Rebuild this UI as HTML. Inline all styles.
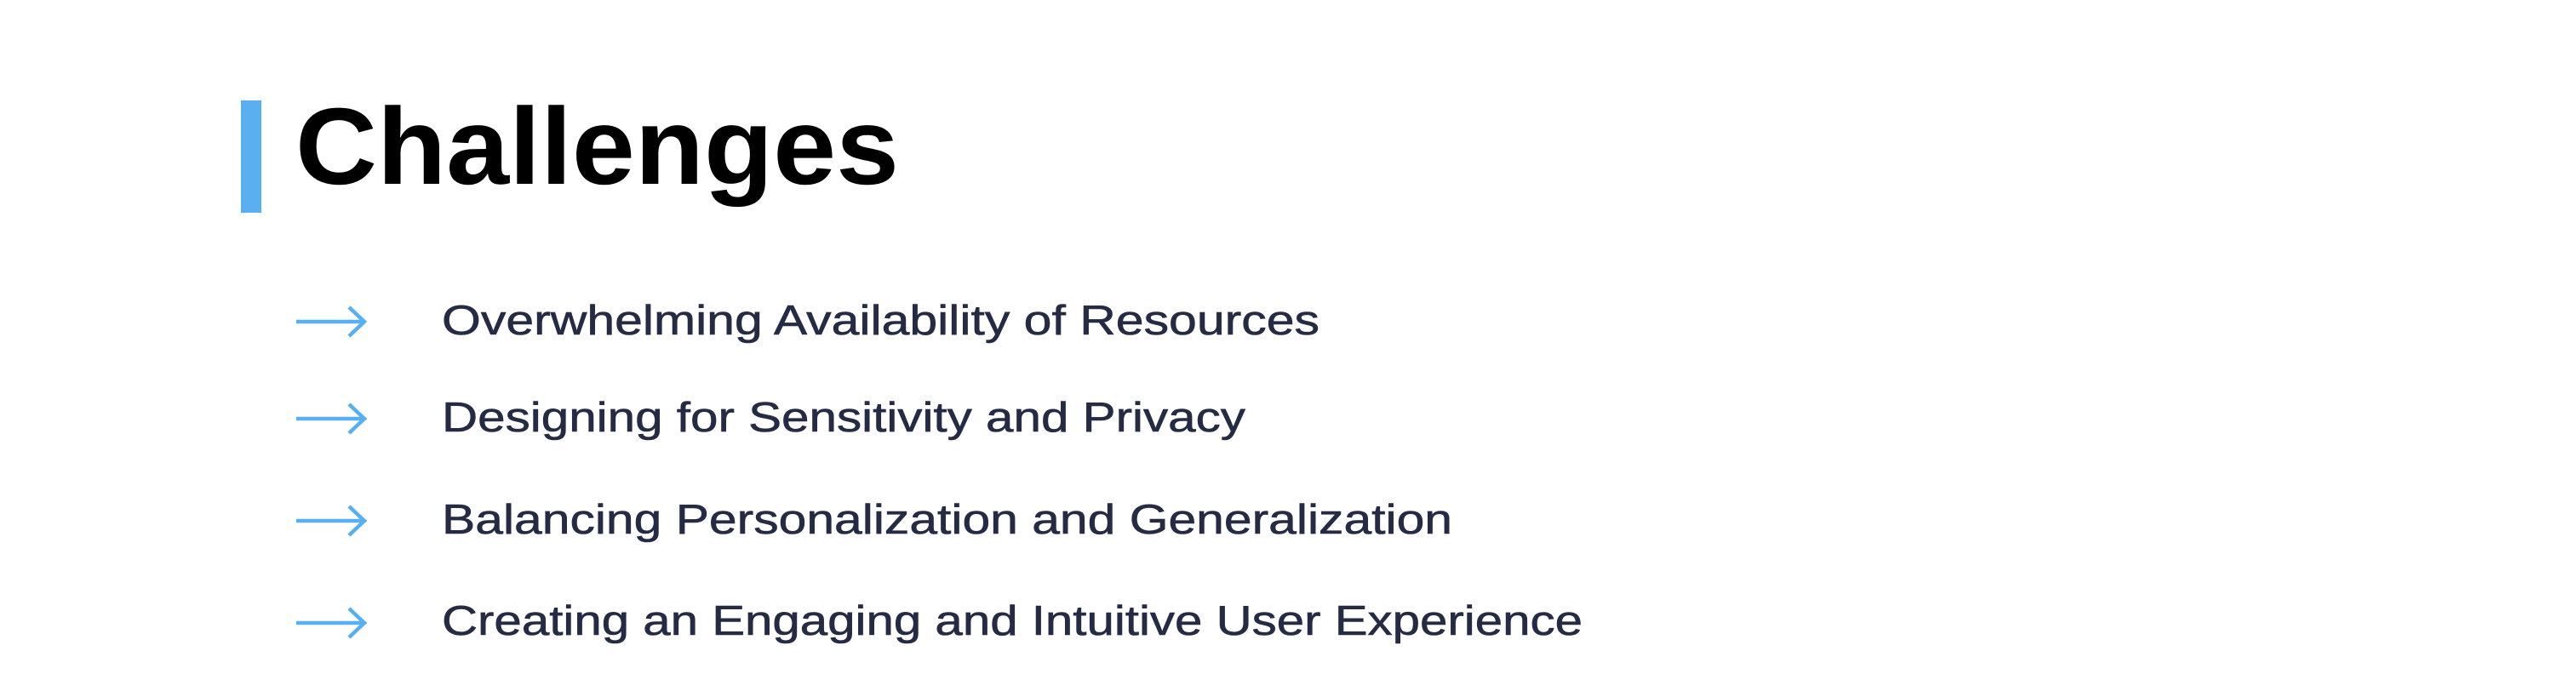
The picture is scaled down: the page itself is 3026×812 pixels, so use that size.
<!DOCTYPE html>
<html><head><meta charset="utf-8"><style>
html,body{margin:0;padding:0;background:#fff;}
svg{display:block;}
</style></head><body>
<svg width="3026" height="812" viewBox="0 0 3026 812" xmlns="http://www.w3.org/2000/svg">
<rect x="283" y="118" width="24" height="132" fill="#5aaff0"/>
<text x="347" y="216" font-family="Liberation Sans, sans-serif" font-weight="bold" font-size="128" fill="#000" textLength="709" lengthAdjust="spacingAndGlyphs">Challenges</text>
<g fill="none" stroke="#5aaff0" stroke-width="4.5">
<g><path d="M348 378 H428 M410 361 L428 378 L410 395"/></g>
<g><path d="M348 492 H428 M410 475 L428 492 L410 509"/></g>
<g><path d="M348 612 H428 M410 595 L428 612 L410 629"/></g>
<g><path d="M348 732 H428 M410 715 L428 732 L410 749"/></g>
</g>
<g font-family="Liberation Sans, sans-serif" font-size="49" fill="#262b44" stroke="#262b44" stroke-width="0.6">
<text x="519" y="393" textLength="1031" lengthAdjust="spacingAndGlyphs">Overwhelming Availability of Resources</text>
<text x="519" y="507" textLength="944" lengthAdjust="spacingAndGlyphs">Designing for Sensitivity and Privacy</text>
<text x="519" y="627" textLength="1187" lengthAdjust="spacingAndGlyphs">Balancing Personalization and Generalization</text>
<text x="519" y="746" textLength="1340" lengthAdjust="spacingAndGlyphs">Creating an Engaging and Intuitive User Experience</text>
</g>
</svg>
</body></html>
